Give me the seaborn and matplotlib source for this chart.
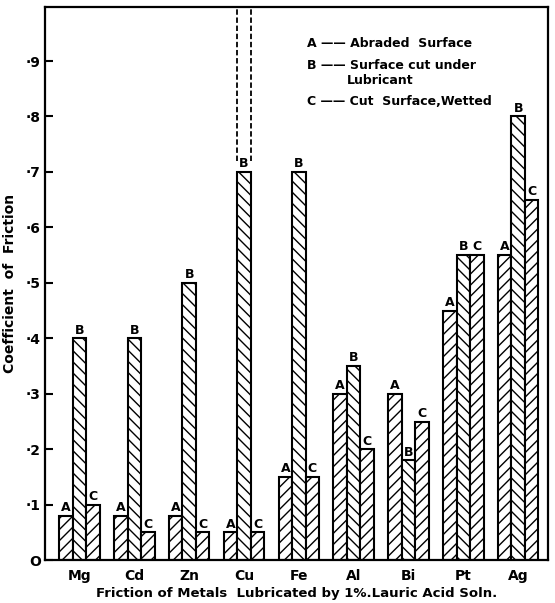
import pandas as pd
import matplotlib
matplotlib.use('Agg')
import matplotlib.pyplot as plt
import seaborn as sns

# values
metals = ['Mg', 'Cd', 'Zn', 'Cu', 'Fe', 'Al', 'Bi', 'Pt', 'Ag']
abraded = [0.08, 0.08, 0.08, 0.05, 0.15, 0.30, 0.30, 0.45, 0.55]
cut_under_lub = [0.40, 0.40, 0.50, 0.70, 0.70, 0.35, 0.18, 0.55, 0.80]
cut_wetted = [0.10, 0.05, 0.05, 0.05, 0.15, 0.20, 0.25, 0.55, 0.65]
surfaces = ['A', 'B', 'C']
y_ticks = [0, 0.1, 0.2, 0.3, 0.4, 0.5, 0.6, 0.7, 0.8, 0.9]
y_ticklabels = ['O', '·1', '·2', '·3', '·4', '·5', '·6', '·7', '·8', '·9']

rows = []
for s, vals in zip(surfaces, [abraded, cut_under_lub, cut_wetted]):
    for m, v in zip(metals, vals):
        rows.append({'metal': m, 'surface': s, 'cof': v})
df = pd.DataFrame(rows)

sns.set_style('white')
plt.rcParams['font.family'] = ['DejaVu Sans']
plt.rcParams['hatch.linewidth'] = 1.0
plt.rcParams['text.color'] = 'black'
plt.rcParams['axes.labelcolor'] = 'black'
plt.rcParams['xtick.color'] = 'black'
plt.rcParams['ytick.color'] = 'black'

fig, ax = plt.subplots(figsize=(5.55, 6.03), dpi=100)
fig.subplots_adjust(left=0.081, right=0.988, top=0.988, bottom=0.071)

sns.barplot(data=df, x='metal', y='cof', hue='surface', order=metals,
            hue_order=surfaces, palette=['white'] * 3, width=0.74,
            edgecolor='black', linewidth=1.5, legend=False, ax=ax)

hatches = {'A': '///', 'B': '\\\\\\', 'C': '///'}
for cont, s in zip(ax.containers, surfaces):
    for p in cont.patches:
        p.set_hatch(hatches[s])
        p.set_edgecolor('black')
        ax.text(p.get_x() + p.get_width() / 2, p.get_height() + 0.003, s,
                ha='center', va='bottom', fontsize=9, fontweight='bold')

# Cu "B" bar goes off scale: dashed continuation to the top
cu_bar = ax.containers[1].patches[metals.index('Cu')]
for xe in [cu_bar.get_x(), cu_bar.get_x() + cu_bar.get_width()]:
    ax.plot([xe, xe], [cu_bar.get_height() + 0.02, 1.0], ls='--', lw=1.3,
            color='black', dashes=(3, 1.5))

ax.set_ylim(0, 0.997)
ax.set_xlim(-0.63, 8.55)
ax.set_yticks(y_ticks)
ax.set_yticklabels(y_ticklabels, fontsize=10, fontweight='bold')
ax.tick_params(axis='y', direction='in', length=6, width=1.5, left=True, pad=3)
ax.tick_params(axis='x', length=0, labelsize=10, pad=6)
for lab in ax.get_xticklabels():
    lab.set_fontweight('bold')

ax.set_xlabel('Friction of Metals  Lubricated by 1%.Lauric Acid Soln.',
              fontsize=9.5, fontweight='bold', labelpad=3)
ax.set_ylabel('Coefficient  of  Friction', fontsize=10, fontweight='bold',
              labelpad=6)
for sp in ax.spines.values():
    sp.set_linewidth(1.6)
    sp.set_color('black')

legend_lines = [
    (0.52, 0.935, 'A —— Abraded  Surface'),
    (0.52, 0.895, 'B —— Surface cut under'),
    (0.60, 0.868, 'Lubricant'),
    (0.52, 0.830, 'C —— Cut  Surface,Wetted'),
]
for x, y, t in legend_lines:
    ax.text(x, y, t, transform=ax.transAxes, fontsize=9, fontweight='bold',
            ha='left', va='center')

fig.savefig('out.png')
